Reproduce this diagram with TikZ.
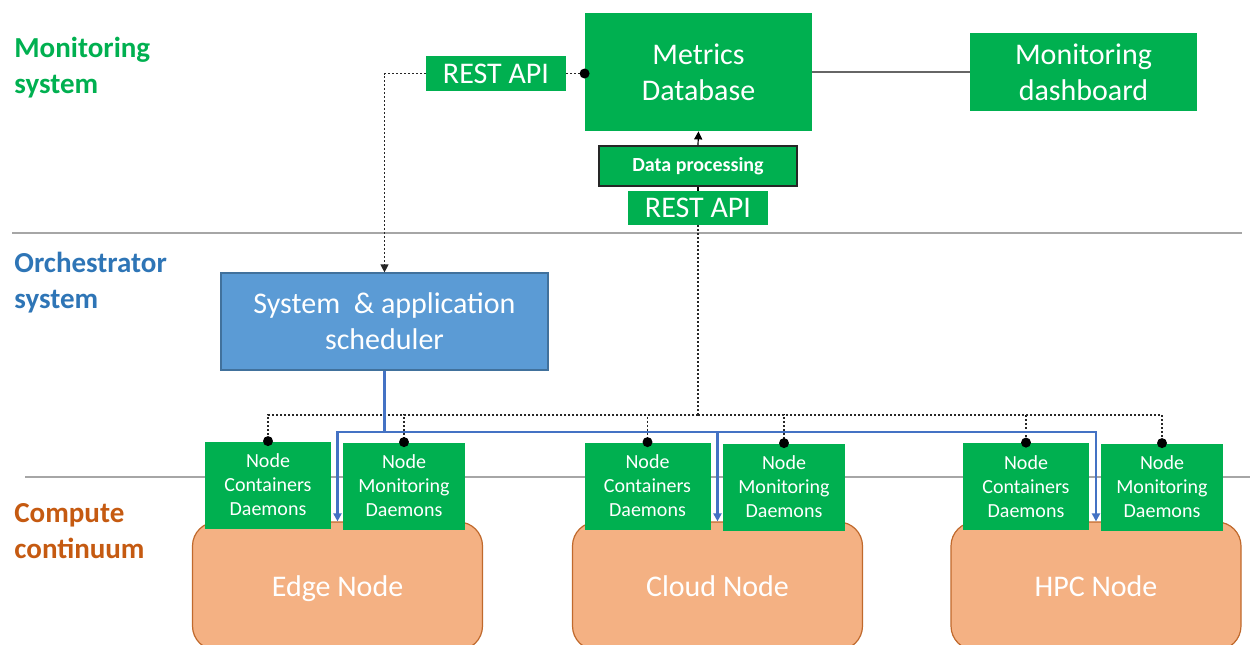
\documentclass[tikz,border=0pt]{standalone}
\usepackage{fontspec}
\setmainfont{Carlito}
\usetikzlibrary{arrows.meta}

\definecolor{mongreen}{HTML}{00B050}
\definecolor{orchblue}{HTML}{2E75B6}
\definecolor{schedfill}{HTML}{5B9BD5}
\definecolor{schededge}{HTML}{41719C}
\definecolor{busblue}{HTML}{4472C4}
\definecolor{sitefill}{HTML}{F4B183}
\definecolor{siteedge}{HTML}{C0692C}
\definecolor{comporange}{HTML}{C55A11}
\definecolor{rulegray}{HTML}{A6A6A6}

\begin{document}
\begin{tikzpicture}[x=0.5pt,y=-0.5pt,
  box/.style={fill=mongreen,text=white,inner sep=0pt,align=center,
    font=\fontsize{15}{18}\selectfont},
  daemon/.style={box,minimum height=43.5pt,font=\fontsize{10}{12}\selectfont},
  site/.style={fill=sitefill,draw=siteedge,line width=0.6pt,rounded corners=12pt,
    text=white,inner sep=0pt,minimum width=145pt,minimum height=64pt,
    text height=10pt,text depth=0pt,font=\fontsize{15}{18}\selectfont},
  layer/.style={anchor=west,align=left,inner sep=0pt,
    font=\fontsize{14.5}{18}\selectfont\bfseries},
  rule/.style={draw=rulegray,line width=1pt},
  dotline/.style={draw=black!85,line width=0.6pt,dash pattern=on 1pt off 1pt},
  busline/.style={draw=busblue,line width=1.1pt},
  tip/.style={-{Triangle[length=4pt,width=4pt]}}
]
\clip (0,0) rectangle (1250,644);
%%
  % Layer rules
  \draw [rule] (12,233) -- (1242,233);
  \draw [rule] (25,477) -- (1250,477);
  % Layer names
  \node [layer,text=mongreen] (monlayer) at (14,68) {Monitoring\\system};
  \node [layer,text=orchblue] (orchlayer) at (14,283) {Orchestrator\\system};
  \node [layer,text=comporange] (complayer) at (14,531) {Compute\\continuum};
%
  % Node: metrics
  \node [box,minimum width=113.5pt,minimum height=59pt] (metrics) at (698.5,72) {Metrics\\Database};
  % Node: restTop
  \node [box,minimum width=70pt,minimum height=17.5pt] (restTop) at (496,73.5) {REST API};
  % Node: dashboard
  \node [box,minimum width=113.5pt,minimum height=39pt] (dashboard) at (1083.5,72) {Monitoring\\dashboard};
  % Node: dataproc
  \node [box,draw=black!85,line width=0.8pt,minimum width=99pt,minimum height=20pt,
    font=\fontsize{10}{12}\selectfont\bfseries] (dataproc) at (698,166) {Data processing};
  % Node: restLow
  \node [box,minimum width=70pt,minimum height=17pt] (restLow) at (698,208) {REST API};
  % Node: scheduler
  \node [box,fill=schedfill,draw=schededge,line width=0.6pt,minimum width=163.5pt,
    minimum height=48.5pt] (scheduler) at (384.5,321.5) {System~ \& application\\scheduler};
%
  % Node: edge, cloud, hpc
  \node [site] (edge) at (337.5,586) {Edge Node};
  \node [site] (cloud) at (717.5,586) {Cloud Node};
  \node [site] (hpc) at (1096,586) {HPC Node};
  % Node: containers / monitoring daemons
  \node [daemon,minimum width=63pt] (edgeCont) at (268,485) {Node\\Containers\\Daemons};
  \node [daemon,minimum width=61pt] (edgeMon) at (404,486) {Node\\Monitoring\\Daemons};
  \node [daemon,minimum width=63pt] (cloudCont) at (647.5,486) {Node\\Containers\\Daemons};
  \node [daemon,minimum width=61pt] (cloudMon) at (784,487) {Node\\Monitoring\\Daemons};
  \node [daemon,minimum width=63pt] (hpcCont) at (1026,486.5) {Node\\Containers\\Daemons};
  \node [daemon,minimum width=61pt] (hpcMon) at (1162,487) {Node\\Monitoring\\Daemons};
%
  % Edge: metrics -- dashboard
  \draw [draw=black!60,line width=0.6pt] (metrics.east) -- (dashboard.west);
  % Edge: dataproc -> metrics
  \draw [black,line width=0.6pt,tip] (dataproc.north) -- (metrics.south);
  % Edge: restLow -- dataproc
  \draw [black,line width=0.6pt] (restLow.north) -- (dataproc.south);
  % Edge: restTop -- metrics
  \draw [dotline] (restTop.east) -- (metrics.west |- restTop.east) coordinate (dbport);
  \fill (dbport) circle (2.5pt);
  % Edge: restTop -> scheduler
  \draw [dotline,tip] (restTop.west) -| (scheduler.north);
  % Edge: restLow -- daemons
  \coordinate (hub) at (698,415);
  \draw [dotline] (restLow.south) -- (hub);
  \foreach \d in {edgeCont,edgeMon,cloudCont,cloudMon,hpcCont,hpcMon} {
    \draw [dotline] (hub) -| (\d.north);
    \fill (\d.north) circle (2.5pt);
  }
  % Edge: scheduler -> sites
  \draw [busline] (scheduler.south) -- ++(0,61) coordinate (bus);
  \foreach \s in {edge,cloud,hpc}
    \draw [busline,tip] (bus) -| (\s.north);
%
\end{tikzpicture}
\end{document}
